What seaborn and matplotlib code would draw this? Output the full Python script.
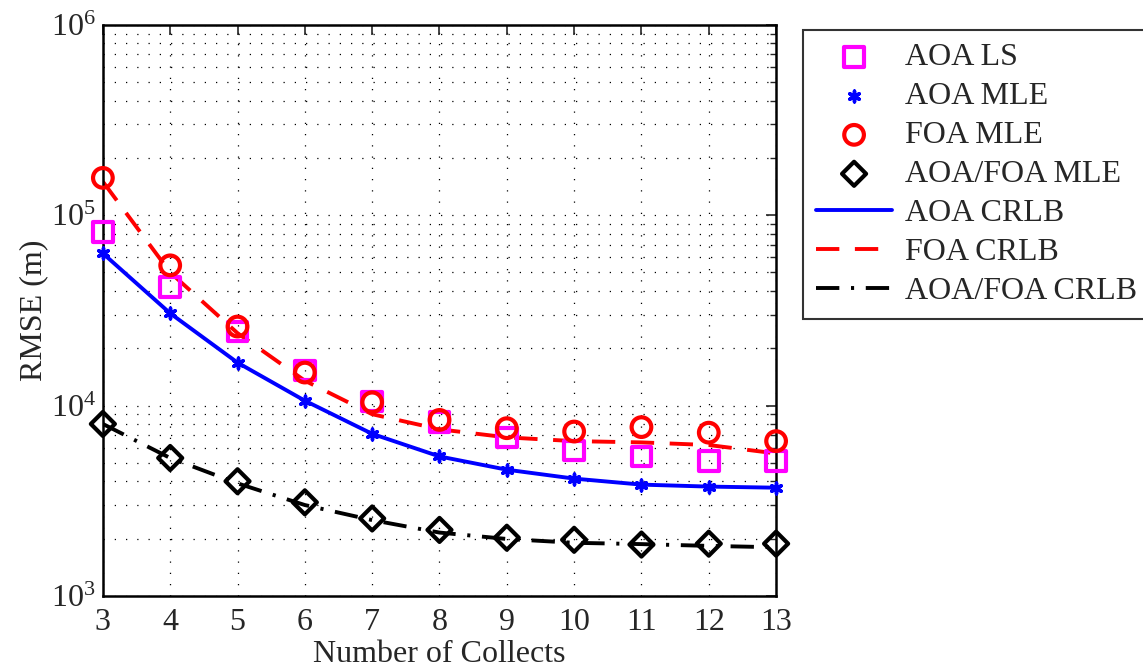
import numpy as np
import pandas as pd
import matplotlib
matplotlib.use("Agg")
import matplotlib.pyplot as plt
import seaborn as sns
from matplotlib.ticker import LogLocator, LogFormatterMathtext, NullFormatter

# --- data ---
collects = [3, 4, 5, 6, 7, 8, 9, 10, 11, 12, 13]
aoa_ls = [8.15e4, 4.18e4, 2.45e4, 1.53e4, 1.05e4, 8.2e3, 6.8e3, 5.8e3, 5.4e3, 5.1e3, 5.1e3]
aoa_mle = [6.3e4, 3.05e4, 1.68e4, 1.06e4, 7.1e3, 5.4e3, 4.6e3, 4.13e3, 3.84e3, 3.75e3, 3.7e3]
foa_mle = [1.57e5, 5.45e4, 2.6e4, 1.49e4, 1.04e4, 8.4e3, 7.6e3, 7.3e3, 7.7e3, 7.2e3, 6.5e3]
both_mle = [8.0e3, 5.3e3, 4.0e3, 3.1e3, 2.55e3, 2.22e3, 2.02e3, 1.97e3, 1.86e3, 1.88e3, 1.88e3]
aoa_crlb = [6.3e4, 3.05e4, 1.68e4, 1.06e4, 7.1e3, 5.4e3, 4.6e3, 4.13e3, 3.84e3, 3.75e3, 3.7e3]
foa_crlb = [1.5e5, 5.0e4, 2.4e4, 1.35e4, 9.0e3, 7.5e3, 6.8e3, 6.5e3, 6.4e3, 6.2e3, 5.6e3]
both_crlb = [8.0e3, 5.3e3, 3.9e3, 3.0e3, 2.5e3, 2.15e3, 1.99e3, 1.9e3, 1.87e3, 1.83e3, 1.8e3]

df = pd.DataFrame({"n": collects, "aoa_ls": aoa_ls, "aoa_mle": aoa_mle, "foa_mle": foa_mle,
                   "both_mle": both_mle, "aoa_crlb": aoa_crlb, "foa_crlb": foa_crlb,
                   "both_crlb": both_crlb})

sns.set_style("white")
plt.rcParams['font.family'] = ['Liberation Serif', 'DejaVu Serif']
plt.rcParams['mathtext.fontset'] = 'custom'
plt.rcParams['mathtext.rm'] = 'Liberation Serif'

fig = plt.figure(figsize=(11.43, 6.71), dpi=100)
ax = fig.add_axes([0.090, 0.112, 0.589, 0.851])

fs = 23
lw = 2.8
# lines (CRLB)
sns.lineplot(data=df, x="n", y="aoa_crlb", ax=ax, color="#0000ff", lw=lw, label="AOA CRLB")
sns.lineplot(data=df, x="n", y="foa_crlb", ax=ax, color="#ff0000", lw=lw,
             label="FOA CRLB").lines[-1].set_dashes([6, 4])
sns.lineplot(data=df, x="n", y="both_crlb", ax=ax, color="black", lw=lw,
             label="AOA/FOA CRLB").lines[-1].set_dashes([6, 3, 0.8, 3])

# markers (simulation results)
sns.scatterplot(data=df, x="n", y="aoa_ls", ax=ax, marker="s", s=200, facecolor="none",
                edgecolor="#ff00ff", linewidth=3, label="AOA LS", zorder=5, clip_on=False)
sns.scatterplot(data=df, x="n", y="aoa_mle", ax=ax, marker=(6, 2, 0), s=60,
                color="#0000ff", edgecolor="#0000ff", linewidth=2.5, label="AOA MLE",
                zorder=6, clip_on=False)
sns.scatterplot(data=df, x="n", y="foa_mle", ax=ax, marker="o", s=200, facecolor="none",
                edgecolor="#ff0000", linewidth=3, label="FOA MLE", zorder=5, clip_on=False)
sns.scatterplot(data=df, x="n", y="both_mle", ax=ax, marker="D", s=150, facecolor="none",
                edgecolor="black", linewidth=3, label="AOA/FOA MLE", zorder=5, clip_on=False)

ax.set_yscale("log")
ax.set_xlim(3, 13)
ax.set_ylim(1e3, 1e6)
ax.set_xticks(collects)
ax.yaxis.set_major_locator(LogLocator(base=10, numticks=10))
ax.yaxis.set_major_formatter(LogFormatterMathtext())
ax.yaxis.set_minor_locator(LogLocator(base=10, subs=np.arange(2, 10), numticks=10))
ax.yaxis.set_minor_formatter(NullFormatter())

ax.grid(True, which="both", axis="y", color="black", lw=0.9, ls=(0, (1, 8)))
ax.grid(True, which="major", axis="x", color="black", lw=0.9, ls=(0, (1, 8)))
ax.set_axisbelow(True)

ax.tick_params(which="both", direction="in", top=True, right=True, labelsize=fs)
ax.tick_params(axis="x", pad=9)
ax.tick_params(axis="y", pad=5)
ax.tick_params(which="major", length=7, width=1.2)
ax.tick_params(which="minor", length=4, width=1.0)
for s in ax.spines.values():
    s.set_color("black")
    s.set_linewidth(1.8)

ax.set_xlabel("Number of Collects", fontsize=fs, labelpad=2)
ax.set_ylabel("RMSE (m)", fontsize=fs, labelpad=2)

handles, labels = ax.get_legend_handles_labels()
order = ["AOA LS", "AOA MLE", "FOA MLE", "AOA/FOA MLE", "AOA CRLB", "FOA CRLB", "AOA/FOA CRLB"]
hmap = dict(zip(labels, handles))
ax.legend_.remove()
leg = fig.legend([hmap[k] for k in order], order, loc="upper left",
                 bbox_to_anchor=(0.7025, 0.955), borderaxespad=0, fontsize=fs,
                 frameon=True, fancybox=False, edgecolor="black", handlelength=2.4,
                 borderpad=0.4, labelspacing=0.3, handletextpad=0.4)
leg.get_frame().set_linewidth(1.5)

fig.savefig("out.png", dpi=100)
